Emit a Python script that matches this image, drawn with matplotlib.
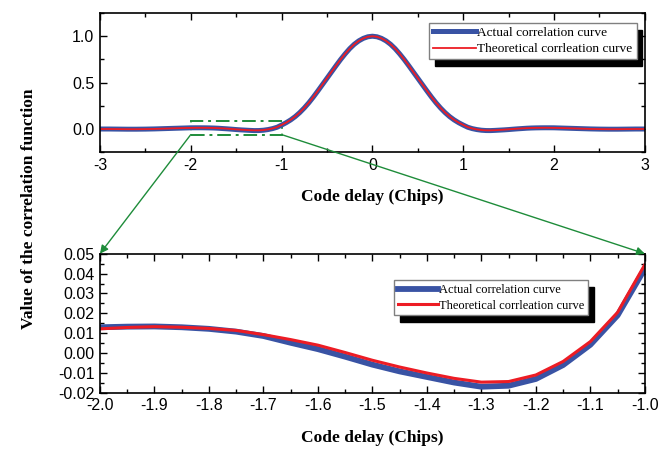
import numpy as np
import matplotlib
matplotlib.use("Agg")
import matplotlib.pyplot as plt
from matplotlib.patches import Rectangle, ConnectionPatch
from matplotlib.ticker import MultipleLocator, FormatStrFormatter

plt.rcParams['axes.unicode_minus'] = False
plt.rcParams['font.family'] = ['Liberation Sans', 'DejaVu Sans']

# full range of code delay (chips), finer steps inside [-2, 2]
top_delay = [-3.0, -2.9, -2.8, -2.7, -2.6, -2.5, -2.4, -2.3, -2.2, -2.1,
             -2.0, -1.95, -1.9, -1.85, -1.8, -1.75, -1.7, -1.65, -1.6, -1.55,
             -1.5, -1.45, -1.4, -1.35, -1.3, -1.25, -1.2, -1.15, -1.1, -1.05,
             -1.0, -0.95, -0.9, -0.85, -0.8, -0.75, -0.7, -0.65, -0.6, -0.55,
             -0.5, -0.45, -0.4, -0.35, -0.3, -0.25, -0.2, -0.15, -0.1, -0.05,
             0.0,
             0.05, 0.1, 0.15, 0.2, 0.25, 0.3, 0.35, 0.4, 0.45, 0.5,
             0.55, 0.6, 0.65, 0.7, 0.75, 0.8, 0.85, 0.9, 0.95, 1.0,
             1.05, 1.1, 1.15, 1.2, 1.25, 1.3, 1.35, 1.4, 1.45, 1.5,
             1.55, 1.6, 1.65, 1.7, 1.75, 1.8, 1.85, 1.9, 1.95, 2.0,
             2.1, 2.2, 2.3, 2.4, 2.5, 2.6, 2.7, 2.8, 2.9, 3.0]
top_theory = [0.0, 0.0, -0.001, -0.002, -0.002, -0.001, 0.001, 0.004, 0.007, 0.010,
              0.0122, 0.0129, 0.0133, 0.0130, 0.0124, 0.0114, 0.0093, 0.0068, 0.0040, 0.0003,
              -0.0036, -0.0070, -0.0100, -0.0127, -0.0146, -0.0143, -0.0110, -0.0042, 0.0058, 0.0205,
              0.0445, 0.069, 0.099, 0.135, 0.178, 0.228, 0.284, 0.346, 0.412, 0.480,
              0.548, 0.616, 0.684, 0.750, 0.811, 0.866, 0.913, 0.950, 0.977, 0.994,
              1.0,
              0.994, 0.977, 0.950, 0.913, 0.866, 0.811, 0.750, 0.684, 0.616, 0.548,
              0.480, 0.412, 0.346, 0.284, 0.228, 0.178, 0.135, 0.099, 0.069, 0.0445,
              0.0205, 0.0058, -0.0042, -0.0110, -0.0143, -0.0146, -0.0127, -0.0100, -0.0070, -0.0036,
              0.0003, 0.0040, 0.0068, 0.0093, 0.0114, 0.0124, 0.0130, 0.0133, 0.0129, 0.0122,
              0.010, 0.007, 0.004, 0.001, -0.001, -0.002, -0.002, -0.001, 0.0, 0.0]
top_actual = [0.0, 0.0, -0.001, -0.002, -0.002, -0.001, 0.001, 0.004, 0.007, 0.010,
              0.0130, 0.0133, 0.0134, 0.0130, 0.0122, 0.0108, 0.0086, 0.0052, 0.0020, -0.0018,
              -0.0058, -0.0092, -0.0120, -0.0148, -0.0169, -0.0164, -0.0130, -0.0060, 0.0042, 0.0190,
              0.0425, 0.068, 0.098, 0.134, 0.177, 0.227, 0.283, 0.345, 0.411, 0.479,
              0.547, 0.615, 0.683, 0.749, 0.810, 0.866, 0.913, 0.950, 0.977, 0.994,
              1.0,
              0.994, 0.977, 0.950, 0.913, 0.866, 0.810, 0.749, 0.683, 0.615, 0.547,
              0.479, 0.411, 0.345, 0.283, 0.227, 0.177, 0.134, 0.098, 0.068, 0.0425,
              0.0190, 0.0042, -0.0060, -0.0130, -0.0164, -0.0169, -0.0148, -0.0120, -0.0092, -0.0058,
              -0.0018, 0.0020, 0.0052, 0.0086, 0.0108, 0.0122, 0.0130, 0.0134, 0.0133, 0.0130,
              0.010, 0.007, 0.004, 0.001, -0.001, -0.002, -0.002, -0.001, 0.0, 0.0]

# zoomed part -2 .. -1
zoom_delay = [-2.0, -1.95, -1.9, -1.85, -1.8, -1.75, -1.7, -1.65, -1.6, -1.55,
              -1.5, -1.45, -1.4, -1.35, -1.3, -1.25, -1.2, -1.15, -1.1, -1.05, -1.0]
zoom_theory = [0.0122, 0.0129, 0.0133, 0.0130, 0.0124, 0.0114, 0.0093, 0.0068, 0.0040, 0.0003,
               -0.0036, -0.0070, -0.0100, -0.0127, -0.0146, -0.0143, -0.0110, -0.0042, 0.0058,
               0.0205, 0.0445]
zoom_actual = [0.0130, 0.0133, 0.0134, 0.0130, 0.0122, 0.0108, 0.0086, 0.0052, 0.0020, -0.0018,
               -0.0058, -0.0092, -0.0120, -0.0148, -0.0169, -0.0164, -0.0130, -0.0060, 0.0042,
               0.0190, 0.0425]

blue = '#3953a4'
red = '#ed1c24'
green = '#1e8c3a'

fig = plt.figure(figsize=(6.71, 4.49), dpi=100)
ax1 = fig.add_axes([0.149, 0.661, 0.812, 0.310])
ax2 = fig.add_axes([0.149, 0.125, 0.812, 0.310])

ax1.plot(top_delay, top_actual, color=blue, lw=3.6, label='Actual correlation curve')
ax1.plot(top_delay, top_theory, color=red, lw=1.3, label='Theoretical corrleation curve')
ax2.plot(zoom_delay, zoom_actual, color=blue, lw=4.2, label='Actual correlation curve')
ax2.plot(zoom_delay, zoom_theory, color=red, lw=2.2, label='Theoretical corrleation curve')

ax1.set_xlim(-3, 3)
ax1.set_ylim(-0.25, 1.25)
ax1.xaxis.set_major_locator(MultipleLocator(1))
ax1.xaxis.set_minor_locator(MultipleLocator(0.5))
ax1.yaxis.set_major_locator(MultipleLocator(0.5))
ax1.yaxis.set_minor_locator(MultipleLocator(0.25))
ax1.yaxis.set_major_formatter(FormatStrFormatter('%.1f'))

ax2.set_xlim(-2.0, -1.0)
ax2.set_ylim(-0.02, 0.05)
ax2.xaxis.set_major_locator(MultipleLocator(0.1))
ax2.xaxis.set_minor_locator(MultipleLocator(0.05))
ax2.yaxis.set_major_locator(MultipleLocator(0.01))
ax2.yaxis.set_minor_locator(MultipleLocator(0.005))
ax2.xaxis.set_major_formatter(FormatStrFormatter('%.1f'))
ax2.yaxis.set_major_formatter(FormatStrFormatter('%.2f'))


def leg_kw(size):
    return dict(prop={'family': 'Liberation Serif', 'size': size}, fancybox=False,
                edgecolor='#808080', framealpha=1, handlelength=3.2, handletextpad=0.1,
                borderpad=0.3, labelspacing=0.3, borderaxespad=0,
                shadow={'ox': 4, 'oy': -5, 'color': 'black', 'alpha': 1})


for ax in (ax1, ax2):
    for s in ax.spines.values():
        s.set_linewidth(1.2)
    ax.tick_params(which='both', direction='in', top=True, right=True, width=1.0)
    ax.tick_params(which='major', length=5, labelsize=11.5, pad=4)
    ax.tick_params(which='minor', length=3)
    ax.set_xlabel('Code delay (Chips)', family='Liberation Serif', fontweight='bold',
                  fontsize=12.5, labelpad=12)

ax1.legend(loc='upper right', bbox_to_anchor=(0.985, 0.93), **leg_kw(9.6))
ax2.legend(loc='upper left', bbox_to_anchor=(0.54, 0.81), **leg_kw(9.0))

fig.text(0.043, 0.535, 'Value of the correlation function', rotation=90, ha='center',
         va='center', family='Liberation Serif', fontweight='bold', fontsize=12.5)

# zoom box and arrows
ax1.add_patch(Rectangle((-2, -0.06), 1, 0.15, fill=False, edgecolor=green, lw=1.4,
                        linestyle=(0, (7, 2.5, 1.5, 2.5))))
for xa, xb in ((-2, 0), (-1, 1)):
    con = ConnectionPatch(xyA=(xa, -0.06), coordsA=ax1.transData,
                          xyB=(xb, 1), coordsB=ax2.transAxes,
                          arrowstyle='-|>', mutation_scale=12, color=green, lw=1.0)
    fig.add_artist(con)

fig.savefig('out.png', dpi=100)
